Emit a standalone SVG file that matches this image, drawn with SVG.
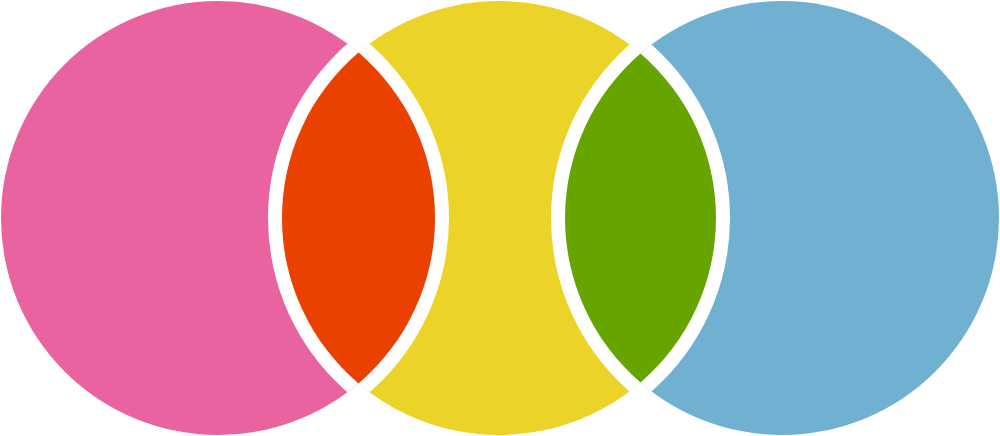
<svg xmlns="http://www.w3.org/2000/svg" width="1000" height="436" viewBox="0 0 1000 436">
  <style>
    .band { fill: none; stroke: #FFFFFF; stroke-width: 28; }
  </style>
  <defs>
    <clipPath id="cPink"><circle cx="218" cy="218" r="217"/></clipPath>
    <clipPath id="cYellow"><circle cx="499" cy="218" r="217"/></clipPath>
    <clipPath id="cBlue"><circle cx="782" cy="218" r="217"/></clipPath>
  </defs>
  <rect width="1000" height="436" fill="#FFFFFF"/>
  <g id="circle-pink"><circle cx="218" cy="218" r="217" fill="#E963A0"/></g>
  <g id="circle-yellow"><circle cx="499" cy="218" r="217" fill="#EBD327"/></g>
  <g id="circle-blue"><circle cx="782" cy="218" r="217" fill="#70B1D2"/></g>
  <g id="separators">
    <circle class="band" cx="499" cy="218" r="217" clip-path="url(#cPink)"/>
    <circle class="band" cx="218" cy="218" r="217" clip-path="url(#cYellow)"/>
    <circle class="band" cx="782" cy="218" r="217" clip-path="url(#cYellow)"/>
    <circle class="band" cx="499" cy="218" r="217" clip-path="url(#cBlue)"/>
  </g>
  <g id="lens-orange">
    <path d="M 358.5 52.6 A 217 217 0 0 1 358.5 383.4 A 217 217 0 0 1 358.5 52.6 Z" fill="#EA4100"/>
  </g>
  <g id="lens-green">
    <path d="M 640.5 53.5 A 217 217 0 0 1 640.5 382.5 A 217 217 0 0 1 640.5 53.5 Z" fill="#66A400"/>
  </g>
</svg>
